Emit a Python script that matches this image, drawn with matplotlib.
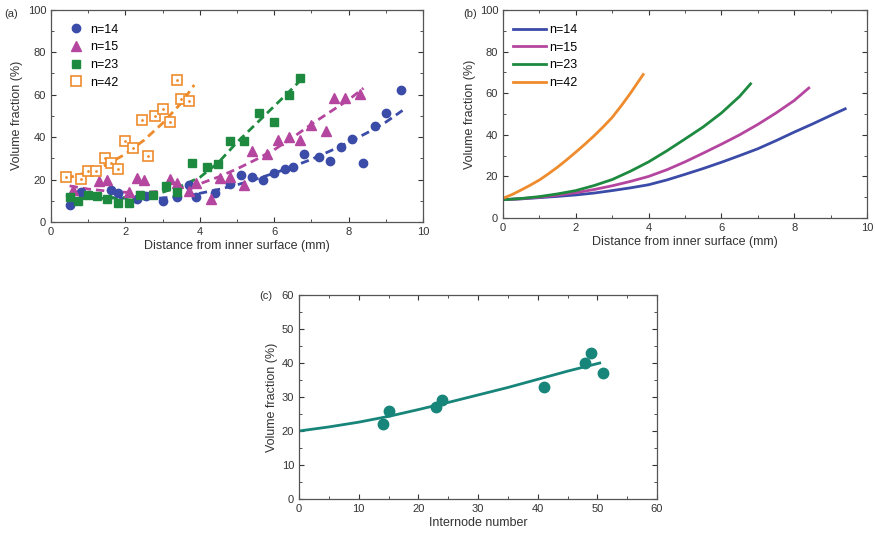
import matplotlib
matplotlib.use('Agg')
import matplotlib.pyplot as plt
from matplotlib.ticker import MultipleLocator

plt.rcParams['font.family'] = ['Liberation Sans', 'DejaVu Sans']

# panel (a): measured points
x14 = [0.5, 0.8, 1.6, 1.8, 2.3, 2.55, 3.0, 3.4, 3.7, 3.9, 4.4, 4.8, 5.1, 5.4, 5.7, 6.0, 6.3, 6.5, 6.8, 7.2, 7.5, 7.8, 8.1, 8.4, 8.7, 9.0, 9.4]
y14 = [8, 14, 15, 13.5, 10.7, 12.2, 10, 12, 17.5, 12, 13.5, 18, 22, 21, 20, 23, 25, 26, 32, 30.8, 28.8, 35.5, 39, 28, 45, 51.5, 62]
x15 = [0.6, 1.3, 1.5, 2.1, 2.3, 2.5, 3.2, 3.4, 3.7, 3.9, 4.3, 4.55, 4.8, 5.2, 5.4, 5.8, 6.1, 6.4, 6.7, 7.0, 7.4, 7.6, 7.9, 8.3]
y15 = [15.2, 19.1, 19.9, 14.2, 20.5, 19.6, 20.3, 18.5, 14.4, 18.3, 11, 20.5, 21.4, 17.4, 33.5, 32.1, 38.7, 40.2, 38.7, 45.7, 42.6, 58.2, 58.2, 60.3]
x23 = [0.5, 0.72, 1.0, 1.23, 1.5, 1.8, 2.1, 2.4, 2.75, 3.1, 3.4, 3.8, 4.2, 4.5, 4.8, 5.2, 5.6, 6.0, 6.4, 6.7]
y23 = [11.8, 10, 12.9, 12.1, 10.8, 9.1, 9, 12.5, 12.6, 17, 14.1, 28, 25.8, 27.2, 37.9, 37.9, 51.2, 47, 60, 67.8]
x42 = [0.4, 0.8, 1.0, 1.2, 1.45, 1.6, 1.8, 2.0, 2.2, 2.45, 2.6, 2.8, 3.0, 3.2, 3.4, 3.5, 3.7]
y42 = [21, 20.3, 24, 24, 30, 27.7, 25, 38, 34.7, 48, 31, 50, 53, 47, 67, 58, 57]

# panel (a): fitted curves
fx14 = [0.4, 1, 1.5, 2, 2.5, 3, 3.5, 4, 4.5, 5, 5.5, 6, 6.5, 7, 7.5, 8, 8.5, 9, 9.45]
fy14 = [12.5, 12, 11.6, 11.2, 11.1, 11.3, 12.2, 13.5, 15.3, 17.5, 20.1, 23, 26.1, 29.5, 33.4, 37.5, 42, 47, 52.5]
fx15 = [0.5, 1, 1.5, 2, 2.5, 3, 3.5, 4, 4.5, 5, 5.5, 6, 6.5, 7, 7.5, 8, 8.4]
fy15 = [17, 15.5, 14.6, 14, 14, 14.5, 16, 18, 21.2, 25, 29.3, 34, 39.8, 46, 51.8, 57.5, 63]
fx23 = [0.5, 1, 1.5, 2, 2.5, 3, 3.5, 4, 4.5, 5, 5.5, 6, 6.5, 6.75]
fy23 = [11, 11, 11.2, 11.5, 12.5, 14, 17, 21, 28, 37.5, 46, 54.5, 63, 67.5]
fx42 = [0.4, 0.7, 1, 1.5, 2, 2.5, 3, 3.5, 3.85]
fy42 = [20.5, 22, 23.5, 27, 32, 38.5, 46.5, 56, 64.5]

# panel (b): model curves
bx14 = [0, 0.5, 1, 1.5, 2, 2.5, 3, 3.5, 4, 4.5, 5, 5.5, 6, 6.5, 7, 7.5, 8, 8.5, 9, 9.4]
by14 = [8.8, 9.2, 9.8, 10.4, 11.1, 12.0, 13.2, 14.5, 16, 18.3, 21, 23.8, 26.8, 30, 33.3, 37.2, 41.3, 45.2, 49.3, 52.5]
bx15 = [0, 0.5, 1, 1.5, 2, 2.5, 3, 3.5, 4, 4.5, 5, 5.5, 6, 6.5, 7, 7.5, 8, 8.4]
by15 = [8.8, 9.3, 10, 11, 12.2, 13.7, 15.5, 17.6, 20, 23.2, 27, 31.2, 35.5, 40, 45, 50.5, 56.5, 62.5]
bx23 = [0, 0.5, 1, 1.5, 2, 2.5, 3, 3.5, 4, 4.5, 5, 5.5, 6, 6.5, 6.8]
by23 = [8.8, 9.4, 10.3, 11.6, 13.2, 15.6, 18.5, 22.5, 27, 32.3, 38, 43.8, 50.5, 58.5, 64.5]
bx42 = [0, 0.25, 0.5, 0.75, 1, 1.25, 1.5, 1.75, 2, 2.25, 2.5, 2.75, 3, 3.25, 3.5, 3.85]
by42 = [9.5, 11.3, 13.5, 15.8, 18.3, 21.3, 24.5, 28, 31.7, 35.5, 39.5, 43.8, 48.4, 54, 60, 69]

# panel (c)
internode = [14, 15, 23, 24, 41, 48, 49, 51]
frac_c = [22, 26, 27, 29, 33, 40, 43, 37]
cx = [0, 5, 10, 15, 20, 25, 30, 35, 40, 45, 50.4]
cy = [20, 21.2, 22.6, 24.3, 26.3, 28.4, 30.6, 32.8, 35.2, 37.6, 40]

labels = ["n=14", "n=15", "n=23", "n=42"]
c_blue, c_mag, c_green, c_orange = "#3B4BA8", "#B5469F", "#1E8A40", "#EE8B2C"
c_teal = "#17857A"


def style(ax, xmaj, xmin, ymaj, ymin):
    ax.xaxis.set_major_locator(MultipleLocator(xmaj))
    ax.xaxis.set_minor_locator(MultipleLocator(xmin))
    ax.yaxis.set_major_locator(MultipleLocator(ymaj))
    ax.yaxis.set_minor_locator(MultipleLocator(ymin))
    ax.tick_params(which='both', direction='in', top=True, right=True,
                   labelsize=8, colors='#333333', labelcolor='#333333')
    ax.tick_params(which='major', length=3.5)
    ax.tick_params(which='minor', length=2)
    for s in ax.spines.values():
        s.set_color('#555555')
        s.set_linewidth(0.9)


fig = plt.figure(figsize=(8.75, 5.41), dpi=100)

# (a)
ax = fig.add_axes([0.0583, 0.5896, 0.4251, 0.3928])
dash = (0, (3, 1.8))
ax.plot(fx14, fy14, color=c_blue, lw=2, ls=dash)
ax.plot(fx15, fy15, color=c_mag, lw=2, ls=dash)
ax.plot(fx23, fy23, color=c_green, lw=2, ls=dash)
ax.plot(fx42, fy42, color=c_orange, lw=2, ls=dash)
ax.plot(x14, y14, 'o', color=c_blue, ms=6, mec=c_blue, label=labels[0])
ax.plot(x15, y15, '^', color=c_mag, ms=6.5, mec=c_mag, label=labels[1])
ax.plot(x23, y23, 's', color=c_green, ms=5.5, mec=c_green, label=labels[2])
ax.plot(x42, y42, 's', mfc='white', mec=c_orange, mew=1.2, ms=6.5, label=labels[3])
ax.plot(x42, y42, '.', color=c_orange, ms=2)
ax.set_xlim(0, 10)
ax.set_ylim(0, 100)
style(ax, 2, 1, 20, 10)
ax.set_xlabel("Distance from inner surface (mm)", fontsize=9, color='#333333', labelpad=2)
ax.set_ylabel("Volume fraction (%)", fontsize=9, color='#333333', labelpad=3)
ax.legend(loc='upper left', frameon=False, fontsize=9, handletextpad=0.5,
          labelspacing=0.45, borderaxespad=0.4, handlelength=1.2,
          bbox_to_anchor=(0.02, 0.98))
fig.text(0.005, 0.975, "(a)", fontsize=8, color='#333333', va='center')

# (b)
ax = fig.add_axes([0.5749, 0.597, 0.416, 0.3845])
ax.plot(bx14, by14, color=c_blue, lw=2, label=labels[0])
ax.plot(bx15, by15, color=c_mag, lw=2, label=labels[1])
ax.plot(bx23, by23, color=c_green, lw=2, label=labels[2])
ax.plot(bx42, by42, color=c_orange, lw=2, label=labels[3])
ax.set_xlim(0, 10)
ax.set_ylim(0, 100)
style(ax, 2, 1, 20, 10)
ax.set_xlabel("Distance from inner surface (mm)", fontsize=9, color='#333333', labelpad=2)
ax.set_ylabel("Volume fraction (%)", fontsize=9, color='#333333', labelpad=3)
ax.legend(loc='upper left', frameon=False, fontsize=9, handletextpad=0.3,
          labelspacing=0.45, borderaxespad=0.4, handlelength=2.6,
          bbox_to_anchor=(0.0, 0.98))
fig.text(0.530, 0.975, "(b)", fontsize=8, color='#333333', va='center')

# (c)
ax = fig.add_axes([0.3417, 0.0776, 0.4092, 0.3771])
ax.plot(cx, cy, color=c_teal, lw=2)
ax.plot(internode, frac_c, 'o', color=c_teal, ms=7.5)
ax.set_xlim(0, 60)
ax.set_ylim(0, 60)
style(ax, 10, 5, 10, 5)
ax.set_xlabel("Internode number", fontsize=9, color='#333333', labelpad=2)
ax.set_ylabel("Volume fraction (%)", fontsize=9, color='#333333', labelpad=3)
fig.text(0.296, 0.452, "(c)", fontsize=8, color='#333333', va='center')

fig.savefig("out.png", dpi=100)
